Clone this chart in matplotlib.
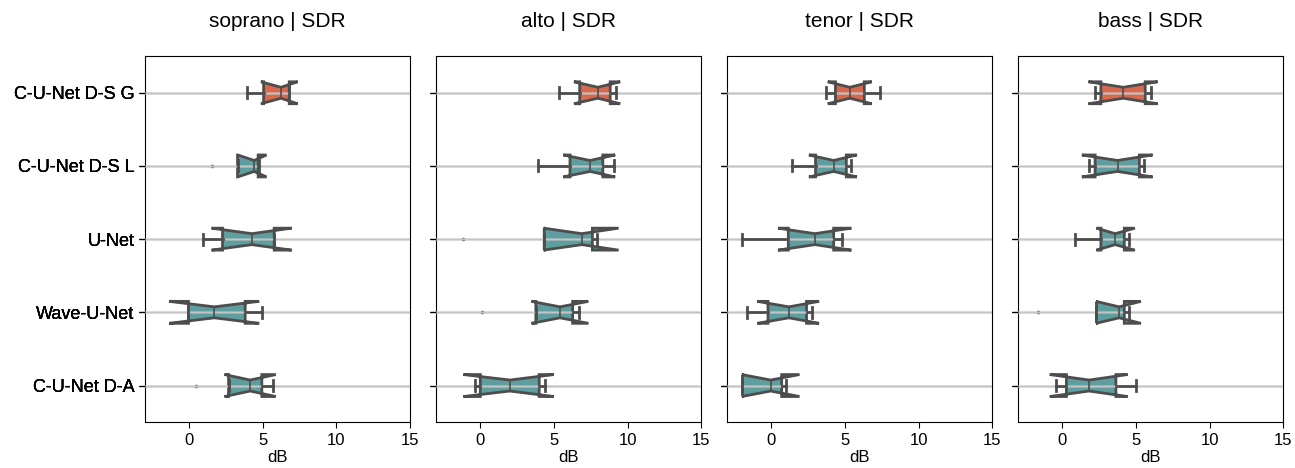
import matplotlib.pyplot as plt

plt.rcParams['font.family'] = ['Liberation Sans', 'DejaVu Sans']

models = ['C-U-Net D-S G', 'C-U-Net D-S L', 'U-Net', 'Wave-U-Net', 'C-U-Net D-A']
voices = ['soprano', 'alto', 'tenor', 'bass']

# per model: whislo, cilo, q1, med, q3, cihi, whishi  (dB)
soprano = [(3.95, 4.87, 5.05, 6.23, 6.79, 7.36, 6.79),
           (3.28, 3.30, 3.28, 4.41, 4.68, 5.25, 4.75),
           (0.95, 1.52, 2.26, 4.25, 5.77, 6.95, 5.77),
           (-0.05, -1.36, -0.05, 1.70, 3.80, 4.75, 4.91),
           (2.67, 2.40, 2.67, 4.14, 4.93, 5.88, 5.66)]
alto = [(5.36, 6.36, 6.75, 7.98, 8.82, 9.50, 9.20),
        (3.93, 5.64, 6.09, 7.45, 8.32, 9.16, 9.05),
        (4.34, 4.30, 4.34, 6.89, 7.61, 9.39, 7.90),
        (3.77, 3.48, 3.77, 5.41, 6.27, 7.34, 6.70),
        (-0.34, -1.14, 0.00, 2.00, 4.00, 5.00, 4.39)]
tenor = [(3.74, 3.83, 4.35, 5.32, 6.31, 6.82, 7.39),
         (1.42, 2.55, 3.00, 4.23, 5.09, 5.81, 5.40),
         (-1.96, 0.45, 1.15, 2.95, 4.23, 5.43, 4.80),
         (-1.67, -0.95, -0.23, 1.19, 2.39, 3.24, 2.77),
         (-1.96, -2.00, -1.96, -0.05, 0.70, 1.91, 0.97)]
bass = [(2.22, 1.77, 2.61, 4.13, 5.62, 6.46, 6.01),
        (1.77, 1.32, 2.22, 3.74, 5.22, 6.12, 5.56),
        (0.86, 2.31, 2.61, 3.58, 4.20, 4.92, 4.54),
        (2.31, 2.28, 2.31, 3.85, 4.20, 5.33, 4.54),
        (-0.45, -0.86, 0.27, 1.81, 3.63, 4.42, 4.99)]

soprano_fliers = [[], [1.58], [], [], [0.45]]
alto_fliers = [[], [], [-1.18], [0.11], []]
tenor_fliers = [[], [], [], [], []]
bass_fliers = [[], [], [], [-1.63], []]

all_stats = [soprano, alto, tenor, bass]
all_fliers = [soprano_fliers, alto_fliers, tenor_fliers, bass_fliers]

edge = '#4d4d4d'
teal = '#5f9e9f'
red = '#d8694d'

fig, axes = plt.subplots(1, 4, figsize=(12.95, 4.68), dpi=100, sharey=True)
fig.subplots_adjust(left=0.112, right=0.991, bottom=0.098, top=0.880, wspace=0.098)

for ax, voice, vstats, vfliers in zip(axes, voices, all_stats, all_fliers):
    stats = []
    for name, s, fl in zip(models, vstats, vfliers):
        stats.append(dict(label=name, whislo=s[0], cilo=s[1], q1=s[2], med=s[3],
                          q3=s[4], cihi=s[5], whishi=s[6], fliers=fl))
    bp = ax.bxp(stats, positions=range(len(models)), widths=0.3,
                orientation='horizontal', shownotches=True, patch_artist=True,
                boxprops=dict(edgecolor=edge, linewidth=2),
                whiskerprops=dict(color=edge, linewidth=2),
                capprops=dict(color=edge, linewidth=2),
                medianprops=dict(color=edge, linewidth=1.2),
                flierprops=dict(marker='o', markersize=2.6, markerfacecolor=edge,
                                markeredgecolor=edge, markeredgewidth=0))
    for i, box in enumerate(bp['boxes']):
        box.set_facecolor(red if i == 0 else teal)
        box.set_zorder(1)
    for key in ['whiskers', 'caps', 'medians']:
        for ln in bp[key]:
            ln.set_zorder(3)

    ax.set_axisbelow(False)
    ax.yaxis.grid(True, color='#c4c4c4', linewidth=1)
    ax.set_ylim(len(models) - 0.5, -0.5)
    ax.set_xlim(-3, 15)
    ax.set_xticks([0, 5, 10, 15])
    ax.tick_params(axis='x', labelsize=12, length=4)
    ax.tick_params(axis='y', labelsize=13, length=4)
    ax.set_xlabel('dB', fontsize=12, labelpad=2)
    ax.set_title(voice + ' | SDR', fontsize=15, pad=21)

fig.savefig('out.png', dpi=100)
